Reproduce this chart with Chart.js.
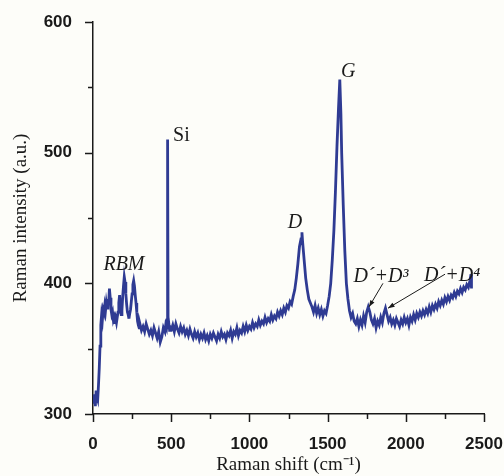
<!DOCTYPE html>
<html>
<head>
<meta charset="utf-8">
<script src="https://cdn.jsdelivr.net/npm/chart.js@4/dist/chart.umd.min.js"></script>
<style>
  html, body { margin: 0; padding: 0; background: #fdfdf9; }
  canvas { display: block; }
</style>
</head>
<body>
<canvas id="raman" width="504" height="476"></canvas>
<script>
// Raman shift (cm^-1) and intensity (a.u.)
const shift = [
  0, 5, 10, 15, 20, 25, 30, 35, 40, 45, 50, 55, 60, 65, 70, 75, 80, 85, 90, 95,
  100, 105, 110, 115, 120, 125, 130, 135, 140, 145, 150, 155, 160, 165, 170, 175, 180, 185, 190, 195,
  200, 205, 210, 215, 220, 225, 230, 235, 240, 245, 250, 255, 260, 265, 270, 275, 280, 285, 290, 295,
  300, 310, 320, 330, 340, 350, 360, 370, 380, 390, 400, 410, 420, 430, 440, 450, 460, 465, 470, 474,
  477, 480, 483, 486, 490, 500, 510, 520, 530, 540, 550, 560, 570, 580, 590, 600, 610, 620, 630, 640,
  650, 660, 670, 680, 690, 700, 710, 720, 730, 740, 750, 760, 770, 780, 790, 800, 810, 820, 830, 840,
  850, 860, 870, 880, 890, 900, 910, 920, 930, 940, 950, 960, 970, 980, 990, 1000, 1010, 1020, 1030, 1040,
  1050, 1060, 1070, 1080, 1090, 1100, 1110, 1120, 1130, 1140, 1150, 1160, 1170, 1180, 1190, 1200, 1210, 1220, 1230, 1240,
  1250, 1260, 1270, 1280, 1290, 1300, 1310, 1320, 1330, 1336, 1340, 1350, 1360, 1370, 1380, 1390, 1400, 1410, 1420, 1430,
  1440, 1450, 1460, 1470, 1480, 1490, 1500, 1510, 1520, 1530, 1540, 1550, 1560, 1570, 1578, 1585, 1590, 1600, 1610, 1620,
  1630, 1640, 1650, 1660, 1670, 1680, 1690, 1700, 1710, 1720, 1730, 1740, 1750, 1760, 1770, 1780, 1790, 1800, 1810, 1820,
  1830, 1840, 1850, 1860, 1870, 1880, 1890, 1900, 1910, 1920, 1930, 1940, 1950, 1960, 1970, 1980, 1990, 2000, 2010, 2020,
  2030, 2040, 2050, 2060, 2070, 2080, 2090, 2100, 2110, 2120, 2130, 2140, 2150, 2160, 2170, 2180, 2190, 2200, 2210, 2220,
  2230, 2240, 2250, 2260, 2270, 2280, 2290, 2300, 2310, 2320, 2330, 2340, 2350, 2360, 2370, 2380, 2390, 2400, 2410, 2417,
  2420
];
const intensity = [
  312, 308, 315, 306, 318, 313, 311, 322, 335, 352, 368, 376, 372, 380, 378, 383, 379, 385, 381, 388,
  384, 396, 389, 380, 376, 378, 372, 374, 369, 373, 370, 374, 378, 385, 391, 380, 376, 379, 390, 398,
  405, 401, 392, 384, 378, 376, 373, 377, 380, 386, 392, 399, 402, 398, 391, 385, 378, 371, 368, 366,
  369, 364, 367, 363, 369, 365, 361, 364, 360, 366, 362, 358, 363, 355, 359, 366, 363, 368, 366, 372,
  510, 371, 365, 368, 364, 364, 368, 363, 369, 365, 362, 367, 363, 366, 361, 364, 360, 365, 361, 358,
  363, 359, 362, 357, 361, 358, 362, 357, 360, 356, 361, 358, 362, 359, 356, 361, 358, 363, 359, 361,
  357, 362, 360, 364, 358, 363, 361, 366, 360, 364, 362, 367, 363, 368, 364, 367, 365, 370, 366, 369,
  367, 372, 368, 371, 369, 374, 370, 373, 371, 376, 372, 375, 373, 378, 375, 379, 376, 381, 378, 383,
  381, 386, 384, 390, 395, 404, 415, 428, 434, 439, 432, 418, 404, 395, 388, 385, 382, 378, 383, 377,
  381, 376, 380, 375, 379, 377, 383, 390, 400, 418, 440, 470, 505, 535, 556, 530, 500, 460, 425, 400,
  388, 379, 374, 377, 371, 369, 373, 367, 372, 368, 375, 370, 378, 382, 378, 372, 369, 373, 366, 371,
  368, 374, 370, 377, 381, 376, 371, 374, 369, 372, 368, 373, 370, 367, 372, 369, 374, 370, 373, 368,
  374, 371, 376, 372, 377, 374, 378, 375, 379, 376, 380, 377, 382, 378, 383, 380, 384, 381, 386, 383,
  387, 384, 389, 386, 390, 387, 391, 389, 393, 390, 394, 392, 396, 393, 397, 395, 399, 397, 402, 407,
  396
];

const xTicks = [0, 500, 1000, 1500, 2000, 2500];
const xMinorTicks = [250, 750, 1250, 1750, 2250];
const yTicks = [300, 400, 500, 600];
const yMinorTicks = [350, 450, 550];

// peak names: text, shift, intensity at the text baseline
const peakNames = ['RBM', 'Si', 'D', 'G', 'D´+D³', 'D´+D⁴'];
const peakNameX = [198, 512, 1292, 1585, 1841, 2296];
const peakNameY = [410, 509, 442, 558, 401, 402];
// arrows from label to shoulder: [shift, intensity]
const arrowFrom = [[1854, 400], [2251, 407]];
const arrowTo = [[1765, 382], [1886, 381]];

const ink = '#1a1a1a';
const lineBlue = '#2f3b93';

const tickMarks = {
  id: 'tickMarks',
  afterDraw(chart) {
    const { ctx, scales: { x, y } } = chart;
    ctx.save();
    ctx.strokeStyle = ink;
    ctx.lineWidth = 1.5;
    ctx.beginPath();
    const yAxis = y.right;
    yTicks.concat(yMinorTicks).forEach(v => {
      const py = Math.round(y.getPixelForValue(v)) + 0.5;
      const len = yTicks.includes(v) ? 8 : 5;
      ctx.moveTo(yAxis - len, py);
      ctx.lineTo(yAxis, py);
    });
    const xAxis = x.top;
    xTicks.concat(xMinorTicks).forEach(v => {
      const px = Math.round(x.getPixelForValue(v)) + 0.5;
      const len = xTicks.includes(v) ? 8 : 5;
      ctx.moveTo(px, xAxis);
      ctx.lineTo(px, xAxis + len);
    });
    ctx.stroke();
    ctx.restore();
  }
};

const peakAnnotations = {
  id: 'peakAnnotations',
  afterDatasetsDraw(chart) {
    const { ctx, scales: { x, y } } = chart;
    ctx.save();
    ctx.fillStyle = ink;
    ctx.textBaseline = 'alphabetic';
    peakNames.forEach((name, i) => {
      const italic = name !== 'Si';
      ctx.font = (italic ? 'italic ' : '') + '20px "Liberation Serif", "Times New Roman", serif';
      ctx.textAlign = name === 'Si' || name === 'G' ? 'left' : 'center';
      ctx.fillText(name, x.getPixelForValue(peakNameX[i]), y.getPixelForValue(peakNameY[i]));
    });
    ctx.strokeStyle = ink;
    ctx.lineWidth = 1;
    arrowFrom.forEach((from, i) => {
      const x1 = x.getPixelForValue(from[0]), y1 = y.getPixelForValue(from[1]);
      const x2 = x.getPixelForValue(arrowTo[i][0]), y2 = y.getPixelForValue(arrowTo[i][1]);
      const a = Math.atan2(y2 - y1, x2 - x1);
      ctx.beginPath();
      ctx.moveTo(x1, y1);
      ctx.lineTo(x2, y2);
      ctx.stroke();
      ctx.beginPath();
      ctx.moveTo(x2, y2);
      ctx.lineTo(x2 - 7 * Math.cos(a - 0.35), y2 - 7 * Math.sin(a - 0.35));
      ctx.lineTo(x2 - 7 * Math.cos(a + 0.35), y2 - 7 * Math.sin(a + 0.35));
      ctx.closePath();
      ctx.fill();
    });
    ctx.restore();
  }
};

const tickFont = { family: '"Liberation Sans", Arial, sans-serif', size: 17, weight: 'bold' };
const titleFont = { family: '"Liberation Serif", "Times New Roman", serif', size: 19 };

new Chart(document.getElementById('raman'), {
  type: 'line',
  data: {
    datasets: [{
      data: shift.map((s, i) => ({ x: s, y: intensity[i] })),
      borderColor: lineBlue,
      borderWidth: 2.8,
      pointRadius: 0,
      tension: 0,
      fill: false,
    }],
  },
  options: {
    responsive: false,
    animation: false,
    layout: { padding: { top: 22, right: 20, bottom: 0, left: 0 } },
    plugins: { legend: { display: false }, tooltip: { enabled: false } },
    scales: {
      x: {
        type: 'linear',
        min: 0,
        max: 2500,
        afterBuildTicks: s => { s.ticks = xTicks.map(v => ({ value: v })); },
        afterFit: s => { s.height = 62; s.paddingLeft = 0; s.paddingRight = 0; },
        ticks: { color: ink, font: tickFont, padding: 20, maxRotation: 0, callback: v => String(v) },
        grid: { display: false, drawTicks: false },
        border: { display: true, color: ink, width: 1.5 },
        title: { display: true, text: 'Raman shift (cm⁻¹)', color: ink, font: titleFont, padding: { top: 0, bottom: 0 } },
      },
      y: {
        min: 300,
        max: 600,
        afterBuildTicks: s => { s.ticks = yTicks.map(v => ({ value: v })); },
        afterFit: s => { s.width = 93; s.paddingTop = 0; s.paddingBottom = 0; },
        ticks: { color: ink, font: tickFont, padding: 21, callback: v => String(v) },
        grid: { display: false, drawTicks: false },
        border: { display: true, color: ink, width: 1.5 },
        title: { display: true, text: 'Raman intensity (a.u.)', color: ink, font: titleFont, padding: { top: 10, bottom: 0 } },
      },
    },
  },
  plugins: [tickMarks, peakAnnotations],
});
</script>
</body>
</html>
